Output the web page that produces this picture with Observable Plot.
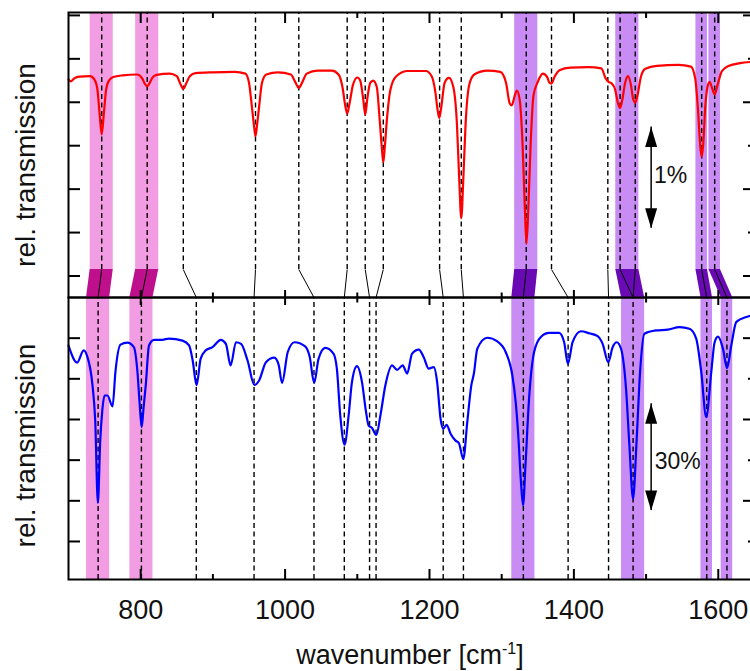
<!DOCTYPE html>
<html><head><meta charset="utf-8">
<script src="https://cdn.jsdelivr.net/npm/d3@7"></script>
<script src="https://cdn.jsdelivr.net/npm/@observablehq/plot@0.6"></script>
<style>
html,body{margin:0;padding:0;background:#fff;}
#chart{position:relative;width:750px;height:671px;overflow:hidden;}
#chart svg{position:absolute;left:0;}
</style></head><body><div id="chart"></div>
<script>
// ---------- data ----------
const topWavenumber = [700,703,708,715,730,736,740,743,746,749,752,756,762,775,795,802,806,809,812,816,822,840,850,855,859,863,868,876,900,930,945,950,954,957,959,961,964,968,974,990,1008,1014,1019,1024,1030,1045,1065,1074,1080,1083,1086,1089,1094,1100,1104,1108,1111,1114,1118,1122,1127,1131,1134,1136,1138,1141,1146,1154,1170,1195,1203,1208,1211,1213.5,1216,1221,1227,1233,1238,1241,1244,1247,1250,1255,1262,1280,1298,1306,1311,1314,1318,1321,1325,1329,1332,1334.3,1337,1340,1344,1350,1357,1363,1366,1369,1373,1380,1395,1420,1438,1444,1448,1452,1457,1461,1464,1467,1471,1475,1479,1482,1485,1488,1493,1499,1515,1545,1562,1568,1572,1575,1577,1579,1582,1585,1588,1591,1595,1599,1605,1615,1630,1646];
const topSignal = [4.53,4.48,4.55,4.59,4.60,4.52,4.30,3.75,3.26,3.75,4.28,4.50,4.58,4.62,4.64,4.55,4.42,4.37,4.43,4.56,4.63,4.66,4.60,4.42,4.31,4.43,4.60,4.67,4.69,4.70,4.66,4.45,3.90,3.45,3.22,3.45,3.90,4.45,4.64,4.69,4.64,4.47,4.33,4.47,4.66,4.73,4.73,4.64,4.30,3.95,3.74,3.95,4.40,4.57,4.50,4.10,3.71,4.10,4.45,4.50,4.35,3.60,2.95,2.62,2.95,3.60,4.30,4.60,4.72,4.72,4.60,4.25,3.85,3.64,3.85,4.45,4.56,4.35,3.50,2.30,1.33,2.30,3.50,4.40,4.64,4.73,4.70,4.45,3.98,3.93,4.15,4.27,4.05,3.00,1.60,0.74,1.60,3.00,4.15,4.47,4.66,4.58,4.45,4.43,4.58,4.74,4.80,4.81,4.78,4.55,4.47,4.44,4.30,3.98,3.87,4.05,4.45,4.60,4.40,4.08,3.99,4.15,4.60,4.77,4.84,4.86,4.82,4.55,3.80,3.00,2.74,3.00,3.90,4.35,4.47,4.35,4.18,4.40,4.72,4.84,4.90,4.93];

const bottomWavenumber = [700,712,721,726,733,737,740.7,744,746.7,750,754,761,765,772,781.5,790.5,795.5,798.5,801.4,804,807,811.5,818.5,830,839,858,867,872,877.4,883,890,899.5,911,918,924.5,932,939,948,957.4,964,973.5,985,991,995.8,1003.7,1013,1027.8,1034,1040.3,1046.3,1055.6,1067,1071.7,1076.4,1082.4,1088,1092.6,1099.5,1106.5,1112,1115.7,1120.4,1126.4,1132,1138.9,1148.2,1155,1162.9,1169,1175.9,1185.2,1192,1199,1206,1210.6,1215.3,1219,1223.6,1229.2,1236.1,1240.7,1246.8,1252.3,1257.9,1261.5,1266.2,1280,1294,1305.5,1314.8,1319.4,1323,1326.4,1329.6,1333,1337.9,1344.9,1354.2,1365.7,1379.6,1386.5,1391.7,1398.2,1409.7,1421.3,1432.9,1439.8,1447.6,1453.7,1459.3,1465.3,1472.2,1476.9,1481.9,1487,1491.7,1497.7,1513.9,1530,1546.3,1560.1,1569.4,1576.4,1583.3,1590.3,1594.9,1599.6,1606.5,1612.1,1618,1625,1639,1646];
const bottomSignal = [4.82,4.40,4.70,4.55,3.88,2.98,0.95,2.50,3.20,3.59,3.59,3.32,4.17,4.84,4.89,4.78,4.17,3.40,2.81,3.30,3.84,4.82,4.96,4.96,4.99,4.94,4.82,4.45,3.84,4.49,4.70,4.78,4.96,4.86,4.33,4.90,4.86,4.45,3.85,3.96,4.41,4.52,4.35,3.90,4.66,4.90,4.80,4.55,3.90,4.49,4.76,4.62,4.25,3.10,2.38,3.10,3.92,4.31,3.92,3.20,2.85,2.79,2.62,3.10,3.84,4.33,4.22,4.33,4.13,4.62,4.72,4.53,4.25,4.29,3.92,3.02,2.77,2.87,2.65,2.48,2.42,2.03,2.93,3.84,4.13,4.74,5.01,4.92,4.66,4.08,3.43,2.60,1.54,0.89,1.90,3.51,4.66,5.03,5.13,5.13,4.90,4.37,4.90,5.17,5.12,5.05,4.86,4.41,4.78,4.90,4.74,3.76,2.36,1.05,2.53,4.17,5.11,5.19,5.21,5.27,5.23,4.99,4.17,3.06,4.17,4.90,5.04,4.74,4.26,4.82,5.40,5.52,5.56];

// assigned peaks: top spectrum -> bottom spectrum
const topPeaks    = [746, 809, 859, 959, 1019, 1086, 1111, 1136, 1214, 1244, 1334, 1369, 1447, 1464, 1485, 1577, 1595];
const bottomPeaks = [741, 801, 877, 957, 1040, 1082, 1117, 1126, 1219, 1247, 1330, 1392, 1448, 1482, 1482, 1584, 1612];

// highlighted modes
const bandTop       = [746, 809, 1334, 1474, 1577, 1595];
const bandBottom    = [741, 801, 1330, 1482, 1584, 1612];
const bandHalfWidth = [16, 16, 16, 16, 8, 8];
const bandGroup     = ["A", "A", "B", "B", "B", "B"];

const xTicksMajor = [800, 1000, 1200, 1400, 1600];
const xTicksMinor = [900, 1100, 1300, 1500];
const yTicksTop = [0, 1, 2, 3, 4, 5, 6];
const yTicksBottom = [0, 1, 2, 3, 4, 5];

const scaleBarTop    = {x: 1507, y1: 1.10, y2: 3.43, label: "1%",  lx: 1511, ly: 2.32};
const scaleBarBottom = {x: 1507, y1: 0.76, y2: 3.39, label: "30%", lx: 1512, ly: 1.97};

// ---------- layout ----------
const xDomain = [700, 1646];
const topDomain = [-0.495, 6.067];
const botDomain = [-0.935, 6.0];
const connStart = 0.15;
const lightColor = {A: "#f29ce3", B: "#c98cf5"};
const darkColor  = {A: "#be108c", B: "#6a0ab4"};
const FONT = "'Liberation Sans', Arial, Helvetica, sans-serif";

const topData = topWavenumber.map((x, i) => ({x, y: topSignal[i]}));
const botData = bottomWavenumber.map((x, i) => ({x, y: bottomSignal[i]}));
const bands = bandTop.map((t, i) => ({top: t, bottom: bandBottom[i], hw: bandHalfWidth[i], group: bandGroup[i]}));
const trap = bands.flatMap((b, i) => [
  {id: i, group: b.group, y: connStart, x1: b.top - b.hw, x2: b.top + b.hw},
  {id: i, group: b.group, y: topDomain[0], x1: b.bottom - b.hw, x2: b.bottom + b.hw}
]);
const links = topPeaks.map((t, i) => ({x1: t, x2: bottomPeaks[i]}));
const bottomUnique = Array.from(new Set(bottomPeaks));

function tickAxes(yMajorRight, yMinorRight, yAll, topMajor, topMinor, botMajor, botMinor) {
  const common = {label: null, fill: "none", stroke: "black", strokeWidth: 2};
  return [
    Plot.axisX(xTicksMajor, {...common, anchor: "top", tickSize: -topMajor}),
    Plot.axisX(xTicksMinor, {...common, anchor: "top", tickSize: -topMinor}),
    Plot.axisX(xTicksMajor, {...common, anchor: "bottom", tickSize: -botMajor}),
    Plot.axisX(xTicksMinor, {...common, anchor: "bottom", tickSize: -botMinor}),
    Plot.axisY(yAll, {...common, anchor: "left", tickSize: -12}),
    Plot.axisY(yMajorRight, {...common, anchor: "right", tickSize: -9}),
    Plot.axisY(yMinorRight, {...common, anchor: "right", tickSize: -4})
  ];
}

function scaleBar(s) {
  return [
    Plot.ruleX([s], {x: "x", y1: "y1", y2: "y2", stroke: "black", strokeWidth: 1.5}),
    Plot.vector([s], {x: "x", y: "y2", length: 20, r: 6, shape: "spike", anchor: "end", rotate: 0, fill: "black", stroke: "none"}),
    Plot.vector([s], {x: "x", y: "y1", length: 20, r: 6, shape: "spike", anchor: "end", rotate: 180, fill: "black", stroke: "none"}),
    Plot.text([s], {x: "lx", y: "ly", text: "label", textAnchor: "start", fontSize: 23, fill: "#111"})
  ];
}

const dash = {stroke: "black", strokeWidth: 1.4, strokeDasharray: "5,3.5"};

const topPlot = Plot.plot({
  width: 750, height: 298,
  marginLeft: 68, marginRight: -1, marginTop: 12, marginBottom: 1,
  x: {domain: xDomain, label: null},
  y: {domain: topDomain, label: null},
  style: {fontFamily: FONT, fontSize: "26px", background: "transparent", overflow: "visible", color: "black"},
  marks: [
    Plot.rect(bands, {x1: d => d.top - d.hw, x2: d => d.top + d.hw, y1: connStart, y2: topDomain[1], fill: d => lightColor[d.group]}),
    Plot.areaX(trap, {y: "y", x1: "x1", x2: "x2", z: "id", fill: d => darkColor[d.group]}),
    Plot.ruleX(topPeaks, {x: d => d, y1: connStart, y2: topDomain[1], ...dash}),
    Plot.link(links, {x1: "x1", x2: "x2", y1: connStart, y2: topDomain[0], stroke: "black", strokeWidth: 1}),
    Plot.line(topData, {x: "x", y: "y", stroke: "#ff0000", strokeWidth: 2.2, curve: "monotone-x"}),
    ...scaleBar(scaleBarTop),
    Plot.text(["rel. transmission"], {text: d => d, frameAnchor: "left", textAnchor: "middle", lineAnchor: "middle", rotate: -90, dx: -42, dy: 10, fontSize: 28, fill: "#111"}),
    Plot.frame({stroke: "black", strokeWidth: 2}),
    ...tickAxes([0, 2, 4, 6], [1, 3, 5], yTicksTop, 10, 5, 7, 4.5)
  ]
});

const botPlot = Plot.plot({
  width: 750, height: 386,
  marginLeft: 68, marginRight: -1, marginTop: 12, marginBottom: 92,
  x: {domain: xDomain, label: null},
  y: {domain: botDomain, label: null},
  style: {fontFamily: FONT, fontSize: "26px", background: "transparent", overflow: "visible", color: "black"},
  marks: [
    Plot.rect(bands, {x1: d => d.bottom - d.hw, x2: d => d.bottom + d.hw, y1: botDomain[0], y2: botDomain[1], fill: d => lightColor[d.group]}),
    Plot.ruleX(bottomUnique, {x: d => d, y1: botDomain[0], y2: botDomain[1], ...dash}),
    Plot.line(botData, {x: "x", y: "y", stroke: "#0000ff", strokeWidth: 2.2, curve: "monotone-x"}),
    ...scaleBar(scaleBarBottom),
    Plot.text(["rel. transmission"], {text: d => d, frameAnchor: "left", textAnchor: "middle", lineAnchor: "middle", rotate: -90, dx: -42, dy: 7, fontSize: 28, fill: "#111"}),
    Plot.text(["wavenumber [cm-1]"], {text: d => d, frameAnchor: "bottom", textAnchor: "middle", lineAnchor: "middle", dy: 76, fontSize: 27, fill: "#111"}),
    Plot.frame({stroke: "black", strokeWidth: 2}),
    Plot.axisX(xTicksMajor, {anchor: "bottom", tickSize: 0, tickPadding: 20, label: null, fontSize: 27, fill: "#111", tickFormat: d => String(d)}),
    ...tickAxes([1, 3, 5], [0, 2, 4], yTicksBottom, 7, 4.5, 10, 5)
  ]
});

topPlot.style.top = "0px";
botPlot.style.top = "285px";
const chart = document.getElementById("chart");
chart.appendChild(botPlot);
chart.appendChild(topPlot);

// superscript for the unit
botPlot.querySelectorAll("text").forEach(t => {
  if (t.textContent === "wavenumber [cm-1]") {
    t.textContent = "";
    const ns = "http://www.w3.org/2000/svg";
    const a = document.createElementNS(ns, "tspan"); a.textContent = "wavenumber [cm";
    const b = document.createElementNS(ns, "tspan"); b.textContent = "-1"; b.setAttribute("dy", "-10"); b.setAttribute("font-size", "16");
    const c = document.createElementNS(ns, "tspan"); c.textContent = "]"; c.setAttribute("dy", "10");
    t.append(a, b, c);
  }
});
</script></body></html>
